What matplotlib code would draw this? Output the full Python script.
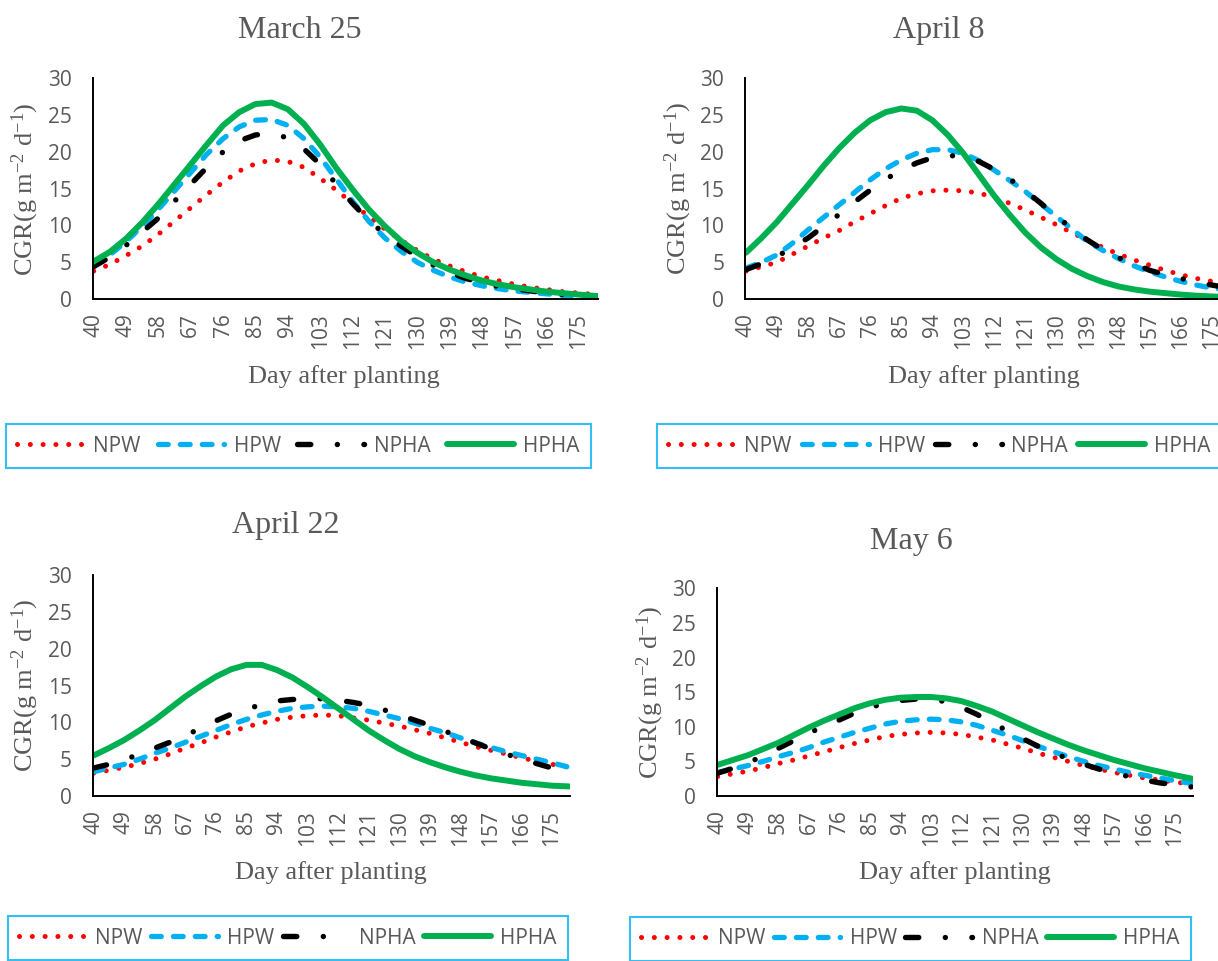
import matplotlib
matplotlib.use("Agg")
import matplotlib.pyplot as plt

plt.rcParams['mathtext.fontset'] = 'custom'
plt.rcParams['mathtext.rm'] = 'Liberation Serif'
plt.rcParams['mathtext.default'] = 'regular'

# day after planting (values read at ticks and half-way between them)
days = [40, 44.5, 49, 53.5, 58, 62.5, 67, 71.5, 76, 80.5, 85, 89.5, 94, 98.5, 103, 107.5,
        112, 116.5, 121, 125.5, 130, 134.5, 139, 143.5, 148, 152.5, 157, 161.5, 166, 170.5,
        175, 180]
x_ticks = [40, 49, 58, 67, 76, 85, 94, 103, 112, 121, 130, 139, 148, 157, 166, 175]
y_ticks = [0, 5, 10, 15, 20, 25, 30]
series_names = ['NPW', 'HPW', 'NPHA', 'HPHA']
panel_titles = ['March 25', 'April 8', 'April 22', 'May 6']

# March 25
npw_m25 = [3.8, 4.7, 5.9, 7.2, 8.8, 10.6, 12.4, 14.2, 15.9, 17.4, 18.4, 18.9, 18.7, 17.9, 16.4, 14.8,
           13.0, 11.2, 9.5, 8.0, 6.6, 5.4, 4.5, 3.7, 3.0, 2.5, 2.0, 1.6, 1.3, 1.0, 0.8, 0.6]
hpw_m25 = [4.7, 6.0, 7.8, 9.9, 12.2, 14.7, 17.2, 19.7, 21.8, 23.4, 24.3, 24.4, 23.6, 21.8, 19.3, 16.3,
           13.3, 10.6, 8.3, 6.5, 5.0, 3.9, 3.0, 2.3, 1.8, 1.4, 1.1, 0.9, 0.7, 0.5, 0.4, 0.3]
npha_m25 = [4.4, 5.7, 7.3, 9.1, 11.0, 13.3, 15.6, 17.9, 20.0, 21.5, 22.3, 22.5, 21.9, 20.4, 18.3, 15.6,
            13.0, 10.7, 8.8, 7.2, 5.8, 4.6, 3.6, 2.8, 2.2, 1.7, 1.4, 1.1, 0.8, 0.6, 0.5, 0.4]
hpha_m25 = [5.1, 6.4, 8.2, 10.4, 12.9, 15.6, 18.3, 21.0, 23.6, 25.4, 26.5, 26.7, 25.8, 23.8, 21.0, 17.8,
            14.9, 12.2, 9.9, 7.9, 6.3, 5.0, 4.0, 3.2, 2.5, 2.0, 1.6, 1.3, 1.0, 0.8, 0.6, 0.4]

# April 8
npw_a8 = [3.8, 4.4, 5.0, 6.1, 7.2, 8.3, 9.3, 10.5, 11.6, 12.7, 13.7, 14.3, 14.7, 14.8, 14.7, 14.4,
          13.8, 13.0, 12.1, 11.1, 10.1, 9.0, 8.0, 7.0, 6.1, 5.3, 4.6, 3.9, 3.3, 2.8, 2.4, 2.0]
hpw_a8 = [4.2, 5.0, 6.0, 7.6, 9.4, 11.1, 12.8, 14.5, 16.2, 17.7, 18.9, 19.8, 20.3, 20.3, 19.8, 18.8,
          17.5, 16.1, 14.6, 12.9, 11.2, 9.5, 7.8, 6.6, 5.5, 4.5, 3.7, 3.0, 2.4, 1.9, 1.5, 1.2]
npha_a8 = [4.0, 4.8, 5.8, 7.0, 8.3, 9.9, 11.5, 13.2, 14.8, 16.3, 17.5, 18.5, 19.2, 19.5, 19.4, 18.7,
           17.6, 16.3, 14.7, 13.0, 11.2, 9.6, 8.0, 6.7, 5.6, 4.8, 3.9, 3.3, 2.8, 2.3, 1.9, 1.5]
hpha_a8 = [6.3, 8.3, 10.5, 13.0, 15.5, 18.1, 20.5, 22.6, 24.3, 25.4, 25.9, 25.6, 24.3, 22.3, 19.8, 16.9,
           14.0, 11.4, 9.0, 7.0, 5.4, 4.1, 3.1, 2.3, 1.7, 1.3, 1.0, 0.8, 0.6, 0.45, 0.35, 0.25]

# April 22
npw_a22 = [3.1, 3.5, 3.9, 4.4, 5.0, 5.7, 6.5, 7.2, 8.0, 8.7, 9.4, 9.9, 10.4, 10.7, 10.9, 11.0,
           10.9, 10.6, 10.3, 9.9, 9.5, 9.0, 8.5, 7.9, 7.3, 6.7, 6.2, 5.7, 5.2, 4.7, 4.3, 3.9]
hpw_a22 = [3.3, 3.8, 4.3, 5.0, 5.8, 6.5, 7.3, 8.1, 8.9, 9.7, 10.4, 11.0, 11.5, 11.9, 12.1, 12.2,
           12.1, 11.9, 11.5, 11.0, 10.5, 9.9, 9.2, 8.6, 7.9, 7.2, 6.6, 6.0, 5.5, 5.0, 4.5, 3.9]
npha_a22 = [3.8, 4.3, 4.9, 5.7, 6.5, 7.3, 8.2, 9.2, 10.2, 11.1, 11.8, 12.4, 12.9, 13.1, 13.2, 13.2,
            13.0, 12.7, 12.3, 11.7, 11.0, 10.3, 9.6, 8.8, 8.0, 7.2, 6.4, 5.7, 5.0, 4.4, 3.8, 3.5]
hpha_a22 = [5.5, 6.5, 7.6, 8.9, 10.3, 11.9, 13.5, 14.9, 16.2, 17.2, 17.8, 17.8, 17.1, 16.1, 14.8, 13.4,
            11.9, 10.4, 8.9, 7.6, 6.4, 5.4, 4.6, 3.9, 3.3, 2.8, 2.4, 2.1, 1.8, 1.6, 1.4, 1.3]

# May 6
npw_m6 = [2.8, 3.2, 3.6, 4.1, 4.7, 5.2, 5.8, 6.4, 7.0, 7.6, 8.1, 8.6, 8.9, 9.1, 9.2, 9.1,
          8.9, 8.5, 8.1, 7.5, 6.9, 6.2, 5.6, 5.0, 4.4, 3.9, 3.4, 3.0, 2.6, 2.3, 2.0, 1.7]
hpw_m6 = [3.4, 3.9, 4.4, 5.0, 5.7, 6.3, 7.0, 7.8, 8.5, 9.2, 9.8, 10.4, 10.8, 11.0, 11.1, 11.0,
          10.7, 10.2, 9.5, 8.8, 8.0, 7.2, 6.4, 5.7, 5.0, 4.4, 3.9, 3.4, 3.0, 2.6, 2.2, 1.8]
npha_m6 = [3.3, 4.0, 4.8, 5.8, 6.9, 8.0, 9.1, 10.1, 11.0, 12.0, 12.8, 13.4, 13.8, 14.0, 14.0, 13.6,
           12.8, 11.8, 10.6, 9.4, 8.3, 7.2, 6.2, 5.4, 4.6, 3.9, 3.3, 2.8, 2.3, 1.9, 1.6, 1.3]
hpha_m6 = [4.5, 5.2, 5.9, 6.8, 7.7, 8.8, 9.9, 10.9, 11.8, 12.7, 13.4, 13.9, 14.2, 14.3, 14.3, 14.1,
           13.7, 13.0, 12.2, 11.2, 10.2, 9.2, 8.3, 7.4, 6.6, 5.9, 5.2, 4.6, 4.0, 3.5, 3.0, 2.5]

panel_data = [
    [npw_m25, hpw_m25, npha_m25, hpha_m25],
    [npw_a8, hpw_a8, npha_a8, hpha_a8],
    [npw_a22, hpw_a22, npha_a22, hpha_a22],
    [npw_m6, hpw_m6, npha_m6, hpha_m6],
]

styles = [
    dict(color='#FF0000', lw=3.6, ls=(0, (0.01, 2.55))),
    dict(color='#00B0F0', lw=3.8, ls=(0, (1.85, 2.3))),
    dict(color='#000000', lw=3.9, ls=(0, (2.45, 4.9, 0.01, 4.9))),
    dict(color='#00B050', lw=4.3, ls='-'),
]

GRAY = '#595959'
W, H = 1218, 961
fig = plt.figure(figsize=(W / 100, H / 100), dpi=100)

# pixel boxes: left, top, right, bottom
axes_px = [(92.6, 78.3, 598, 299), (745, 78.3, 1230, 299),
           (92.6, 575, 570, 796), (716.6, 588.3, 1193, 796)]
title_px = [(300, 38), (939, 38), (286, 533), (911, 549)]
xlabel_px = [(344, 383), (984, 383), (331, 879), (955, 879)]
ylabel_px = [(25, 189), (678, 188), (25, 685), (650, 692)]
legend_px = [(6, 423, 591, 469), (657, 423, 1222, 469),
             (8, 917, 568, 959), (630, 918, 1191, 960)]

for i in range(4):
    l, t, r, b = axes_px[i]
    ax = fig.add_axes([l / W, 1 - b / H, (r - l) / W, (b - t) / H])
    handles = []
    for vals, st in zip(panel_data[i], styles):
        ln, = ax.plot(days, vals, color=st['color'], lw=st['lw'], linestyle=st['ls'],
                      dash_capstyle='round', solid_capstyle='round', solid_joinstyle='round')
        handles.append(ln)
    ax.set_xlim(39.7, 180.3)
    ax.set_ylim(0, 30)
    ax.set_xticks(x_ticks)
    ax.set_xticklabels([str(d) for d in x_ticks], rotation=90, family='Open Sans',
                       fontsize=15, color=GRAY)
    ax.set_yticks(y_ticks)
    ax.set_yticklabels([str(v) for v in y_ticks], family='Open Sans', fontsize=15, color=GRAY)
    ax.tick_params(axis='x', length=0, pad=10)
    ax.tick_params(axis='y', length=0, pad=15)
    for s in ['top', 'right']:
        ax.spines[s].set_visible(False)
    for s in ['left', 'bottom']:
        ax.spines[s].set_color('black')
        ax.spines[s].set_linewidth(1.4)
    ax.patch.set_alpha(0)

    tx, ty = title_px[i]
    fig.text(tx / W, 1 - ty / H, panel_titles[i], family='Liberation Serif', fontsize=23,
             color=GRAY, ha='center', va='baseline')
    xx, xy = xlabel_px[i]
    fig.text(xx / W, 1 - xy / H, 'Day after planting', family='Liberation Serif', fontsize=19,
             color=GRAY, ha='center', va='baseline')
    yx, yy = ylabel_px[i]
    fig.text(yx / W, 1 - yy / H, 'CGR(g m$^{-2}$ d$^{-1}$)', family='Liberation Serif',
             fontsize=19, color=GRAY, ha='center', va='center', rotation=90)

    ll, lt, lr, lb = legend_px[i]
    leg = ax.legend(handles, series_names, loc='center', ncol=4, mode='expand',
                    bbox_to_anchor=(ll / W, 1 - lb / H, (lr - ll) / W, (lb - lt) / H),
                    bbox_transform=fig.transFigure, borderaxespad=0, frameon=True,
                    fancybox=False, handlelength=3.2, handletextpad=0.45,
                    prop={'family': 'Open Sans', 'size': 15}, labelcolor=GRAY,
                    borderpad=0.55)
    leg.get_frame().set_edgecolor('#00B0F0')
    leg.get_frame().set_linewidth(1.5)

fig.savefig('out.png', dpi=100)
